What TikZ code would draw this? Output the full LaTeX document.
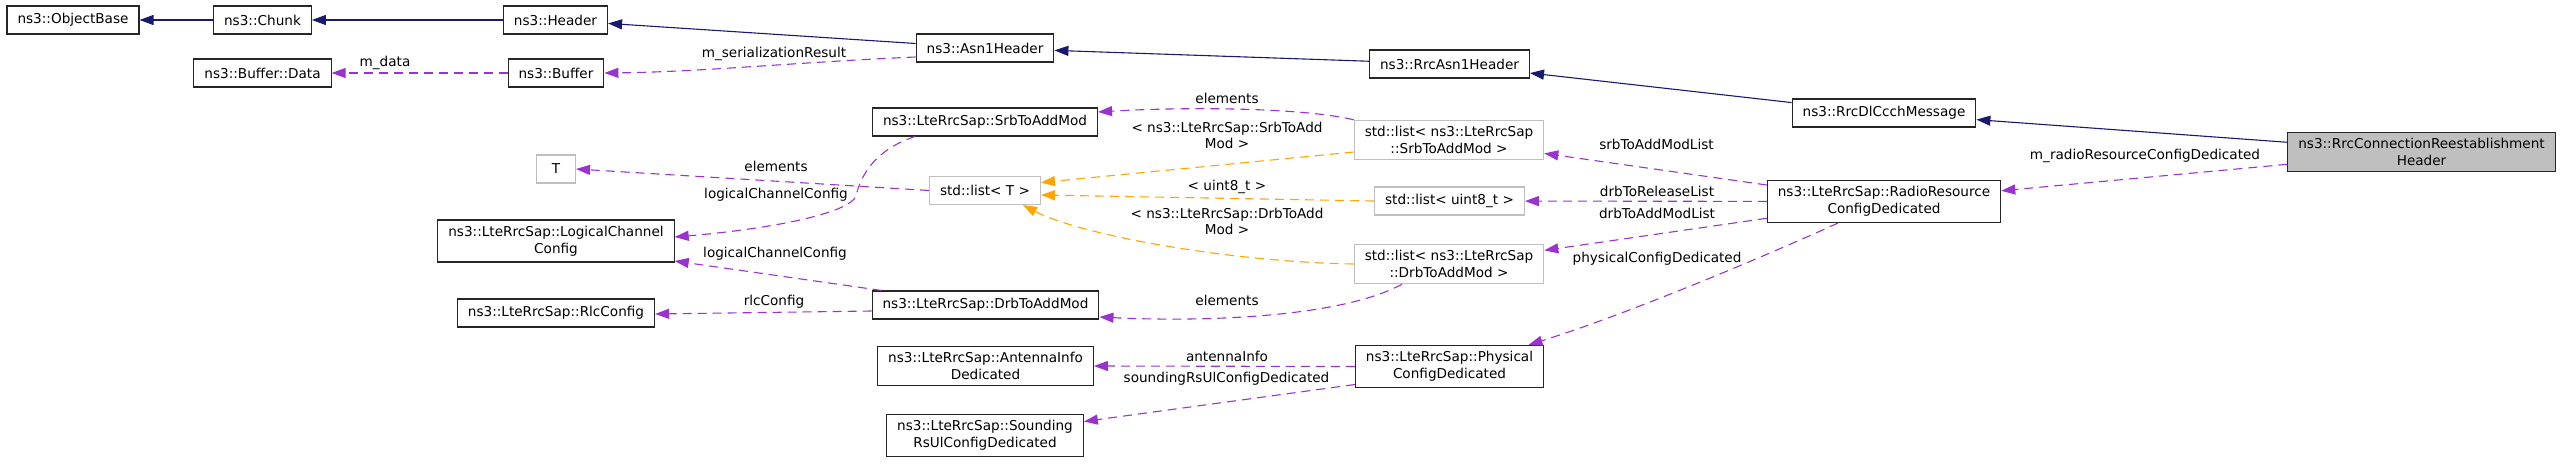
\documentclass[tikz,border=0pt]{standalone}
\usepackage{fontspec}
\setmainfont{DejaVu Sans}
\usetikzlibrary{arrows.meta}
\definecolor{inhblue}{HTML}{191970}
\definecolor{usepurple}{HTML}{9A32CD}
\definecolor{tmplorange}{HTML}{FFA500}
\definecolor{tmplgray}{HTML}{BFBFBF}
\begin{document}
\begin{tikzpicture}[x=1pt,y=-1pt,
    cls/.style={draw=black!85, line width=1.1pt, inner xsep=10.5pt, inner ysep=6pt,
      minimum height=28pt, align=center, font=\fontsize{13.6}{16.8}\selectfont},
    tmpl/.style={cls, draw=tmplgray},
    focus/.style={cls, fill=tmplgray},
    lbl/.style={inner sep=0pt, align=center, font=\fontsize{13.6}{16.8}\selectfont},
    arrowtip/.style={-{Triangle[length=14pt,width=10pt]}},
    inherit/.style={arrowtip, draw=inhblue, line width=1.1pt},
    usedby/.style={arrowtip, draw=usepurple, line width=1.1pt, dash pattern=on 9pt off 6pt},
    templ/.style={arrowtip, draw=tmplorange, line width=1.1pt, dash pattern=on 9pt off 6pt}]
    \useasboundingbox (0,0) rectangle (2563,464);
    % classes
    \node[cls] (ObjectBase) at (73,20) {ns3::ObjectBase};
    \node[cls] (Chunk) at (262.5,20) {ns3::Chunk};
    \node[cls] (Header) at (555.5,20) {ns3::Header};
    \node[cls] (Asn1Header) at (985,48) {ns3::Asn1Header};
    \node[cls] (RrcAsn1Header) at (1449.5,64) {ns3::RrcAsn1Header};
    \node[cls] (RrcDlCcchMessage) at (1884,113) {ns3::RrcDlCcchMessage};
    \node[focus] (ReestabHeader) at (2421.5,152) {ns3::RrcConnectionReestablishment\\Header};
    \node[cls] (BufferData) at (262.5,73) {ns3::Buffer::Data};
    \node[cls] (Buffer) at (556,73) {ns3::Buffer};
    \node[tmpl, minimum width=39pt] (T) at (556,169) {T};
    \node[cls] (LogChanConfig) at (556,241) {ns3::LteRrcSap::LogicalChannel\\Config};
    \node[cls] (RlcConfig) at (556,313) {ns3::LteRrcSap::RlcConfig};
    \node[cls] (SrbToAddMod) at (985,122) {ns3::LteRrcSap::SrbToAddMod};
    \node[tmpl] (ListT) at (985,190.5) {std::list< T >};
    \node[cls] (DrbToAddMod) at (985.5,305) {ns3::LteRrcSap::DrbToAddMod};
    \node[cls] (AntennaInfo) at (985.5,366) {ns3::LteRrcSap::AntennaInfo\\Dedicated};
    \node[cls] (SoundingRs) at (985,435.5) {ns3::LteRrcSap::Sounding\\RsUlConfigDedicated};
    \node[tmpl] (ListSrb) at (1449,140) {std::list< ns3::LteRrcSap\\::SrbToAddMod >};
    \node[tmpl] (ListUint8) at (1449.5,201) {std::list< uint8\_t >};
    \node[tmpl] (ListDrb) at (1449,264) {std::list< ns3::LteRrcSap\\::DrbToAddMod >};
    \node[cls] (PhysConfig) at (1449.5,366.5) {ns3::LteRrcSap::Physical\\ConfigDedicated};
    \node[cls] (RadioResConfig) at (1884,201.5) {ns3::LteRrcSap::RadioResource\\ConfigDedicated};
    % inheritance
    \draw[inherit] (Chunk) -- (ObjectBase);
    \draw[inherit] (Header) -- (Chunk);
    \draw[inherit] (Asn1Header) -- (Header);
    \draw[inherit] (RrcAsn1Header) -- (Asn1Header);
    \draw[inherit] (RrcDlCcchMessage) -- (RrcAsn1Header);
    \draw[inherit] (ReestabHeader) -- (RrcDlCcchMessage);
    % members
    \draw[usedby] (Buffer) -- (BufferData);
    \node[lbl] (mData) at (385,63) {m\_data};
    \draw[usedby] ([yshift=-9pt]Asn1Header.west) .. controls (800,62) and (700,72) .. (Buffer.east);
    \node[lbl] (mSerRes) at (774,54) {m\_serializationResult};
    \draw[usedby] (ReestabHeader) -- (RadioResConfig);
    \node[lbl] (mRadioRes) at (2145,156) {m\_radioResourceConfigDedicated};
    \draw[usedby] (RadioResConfig) -- (ListSrb);
    \node[lbl] (srbList) at (1656.5,144) {srbToAddModList};
    \draw[usedby] (RadioResConfig) -- (ListUint8);
    \node[lbl] (drbRelList) at (1657,191) {drbToReleaseList};
    \draw[usedby] (RadioResConfig) -- (ListDrb);
    \node[lbl] (drbList) at (1657,213) {drbToAddModList};
    \draw[usedby] ([xshift=-46pt]RadioResConfig.south) .. controls (1790,245) and (1640,310) .. ([xshift=79pt]PhysConfig.north);
    \node[lbl] (physCfg) at (1657,259) {physicalConfigDedicated};
    \draw[usedby] (ListSrb.north west) .. controls (1300,107) and (1180,107) .. ([yshift=10pt]SrbToAddMod.east);
    \node[lbl] (elemSrb) at (1227,98) {elements};
    \draw[usedby] ([xshift=-47pt]ListDrb.south) .. controls (1340,318) and (1200,322) .. ([yshift=-12pt]DrbToAddMod.east);
    \node[lbl] (elemDrb) at (1227,300) {elements};
    \draw[usedby] (ListT.west) -- (T.east);
    \node[lbl] (elemT) at (776,166) {elements};
    \draw[usedby] ([xshift=-70pt]SrbToAddMod.south) .. controls (880,148) and (862,170) .. (856,196)
      .. controls (850,212) and (780,228) .. ([yshift=4pt]LogChanConfig.east);
    \node[lbl] (lccSrb) at (776,195) {logicalChannelConfig};
    \draw[usedby] ([xshift=10pt]DrbToAddMod.north west) -- ([yshift=-20pt]LogChanConfig.east);
    \node[lbl] (lccDrb) at (775,254) {logicalChannelConfig};
    \draw[usedby] ([yshift=-6pt]DrbToAddMod.west) -- ([yshift=-1pt]RlcConfig.east);
    \node[lbl] (rlcCfg) at (774,302) {rlcConfig};
    \draw[usedby] (PhysConfig.west) -- (AntennaInfo.east);
    \node[lbl] (antInfo) at (1227,356) {antennaInfo};
    \draw[usedby] ([yshift=-18pt]PhysConfig.west) -- ([yshift=14pt]SoundingRs.east);
    \node[lbl] (soundRs) at (1226.5,379) {soundingRsUlConfigDedicated};
    % template instances
    \draw[templ] ([yshift=-12pt]ListSrb.west) -- ([yshift=8pt]ListT.east);
    \node[lbl] (argSrb) at (1227,135.5) {< ns3::LteRrcSap::SrbToAdd\\Mod >};
    \draw[templ] (ListUint8.west) -- ([yshift=-4.5pt]ListT.east);
    \node[lbl] (argUint8) at (1227,187) {< uint8\_t >};
    \draw[templ] (ListDrb.west) .. controls (1230,262) and (1080,235) .. ([xshift=-18pt]ListT.south east);
    \node[lbl] (argDrb) at (1227,221.5) {< ns3::LteRrcSap::DrbToAdd\\Mod >};
  \end{tikzpicture}
\end{document}
